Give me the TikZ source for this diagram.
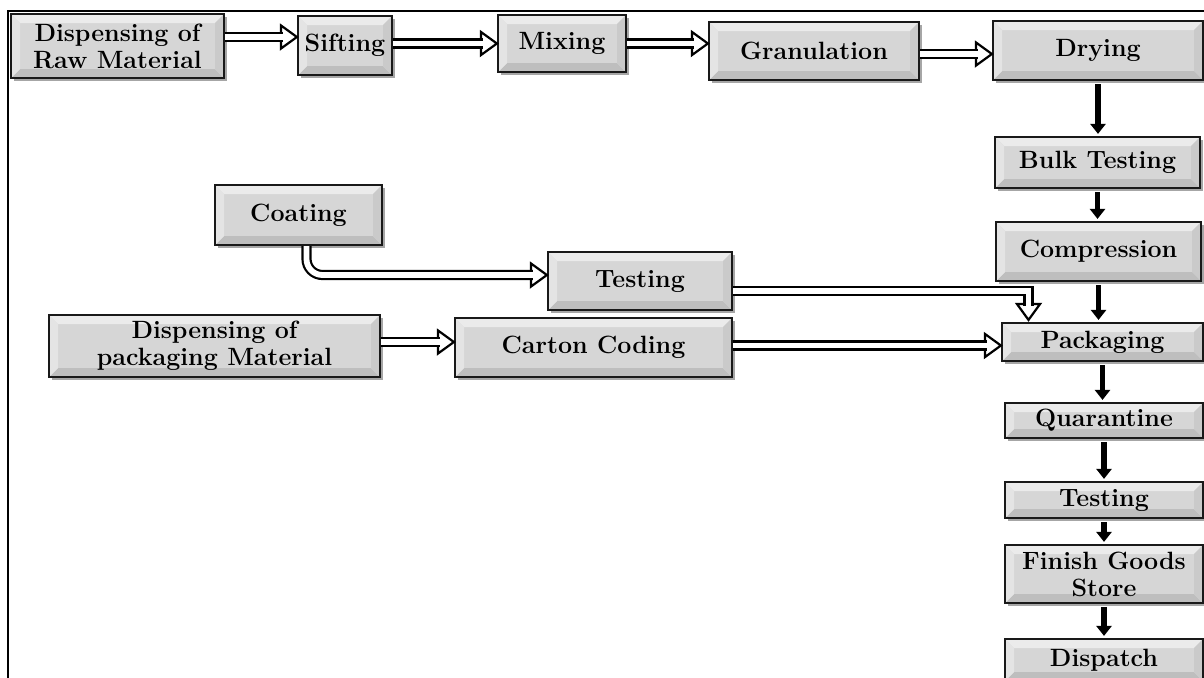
\documentclass[tikz,border=0pt]{standalone}
\usetikzlibrary{arrows.meta,shadows}

\definecolor{boxface}{HTML}{D6D6D6}
\definecolor{bevtop}{HTML}{EBEBEB}
\definecolor{bevleft}{HTML}{E4E4E4}
\definecolor{bevbottom}{HTML}{BEBEBE}
\definecolor{bevright}{HTML}{CACACA}

\tikzset{
  stage/.style={
    draw=black!90, line width=1.1pt, fill=boxface, inner sep=2pt, align=center,
    font=\fontsize{12.5}{13.5}\selectfont\bfseries,
    drop shadow={shadow xshift=1.3pt, shadow yshift=-1.3pt, opacity=0.35, fill=black},
    path picture={
      \fill[bevtop] (path picture bounding box.north west) -- (path picture bounding box.north east)
        -- ([shift={(-4.5pt,-4.5pt)}]path picture bounding box.north east)
        -- ([shift={(4.5pt,-4.5pt)}]path picture bounding box.north west) -- cycle;
      \fill[bevbottom] (path picture bounding box.south west) -- (path picture bounding box.south east)
        -- ([shift={(-4.5pt,4.5pt)}]path picture bounding box.south east)
        -- ([shift={(4.5pt,4.5pt)}]path picture bounding box.south west) -- cycle;
      \fill[bevleft] (path picture bounding box.north west) -- (path picture bounding box.south west)
        -- ([shift={(4.5pt,4.5pt)}]path picture bounding box.south west)
        -- ([shift={(4.5pt,-4.5pt)}]path picture bounding box.north west) -- cycle;
      \fill[bevright] (path picture bounding box.north east) -- (path picture bounding box.south east)
        -- ([shift={(-4.5pt,4.5pt)}]path picture bounding box.south east)
        -- ([shift={(-4.5pt,-4.5pt)}]path picture bounding box.north east) -- cycle;
    }},
  hshaft/.style={draw=black, line width=1.1pt, double=white, double distance=2.9pt},
  hhead/.style={fill=white, draw=black, line width=1.1pt, line join=miter},
  solid arrow/.style={line width=2.7pt, shorten <=1.5pt, shorten >=1pt,
    -{Triangle[length=5pt, width=7.5pt]}},
  frame/.style={line width=0.9pt},
}

% open arrow heads for the hollow connectors
\newcommand\headright[1]{\filldraw[hhead] (#1) -- ++(-8pt,5.8pt) -- ++(0,-11.6pt) -- cycle;}
\newcommand\headdown[1]{\filldraw[hhead] (#1) -- ++(-5.8pt,8pt) -- ++(11.6pt,0) -- cycle;}

\begin{document}
\begin{tikzpicture}[x=0.5pt, y=-0.5pt]
\fill[white] (0,0) rectangle (1204,677);
\clip (0,0) rectangle (1204,677);

% outer frame
\draw[frame] (8,690) -- (8,11) -- (1210,11);

% top row
\node[stage, minimum width=106.5pt, minimum height=32pt]   (raw)  at (117.5,46)  {Dispensing of\\Raw Material};
\node[stage, minimum width=47pt,    minimum height=29.5pt] (sift) at (345,45.5)  {Sifting};
\node[stage, minimum width=64pt,    minimum height=28.5pt] (mix)  at (562,43.5)  {Mixing};
\node[stage, minimum width=105pt,   minimum height=29pt]   (gran) at (814,51)    {Granulation};
\node[stage, minimum width=105pt,   minimum height=29.5pt] (dry)  at (1098,50.5) {Drying};

% right column
\node[stage, minimum width=102.5pt, minimum height=25.5pt] (bulk)  at (1097.5,162.5) {Bulk Testing};
\node[stage, minimum width=102.5pt, minimum height=29.5pt] (comp)  at (1098.5,251.5) {Compression};
\node[stage, minimum width=100.5pt, minimum height=19pt]   (pack)  at (1102.5,342)   {Packaging};
\node[stage, minimum width=99pt,    minimum height=17.5pt] (quar)  at (1104,420.5)   {Quarantine};
\node[stage, minimum width=99pt,    minimum height=18pt]   (test2) at (1104,500)     {Testing};
\node[stage, minimum width=99pt,    minimum height=29pt]   (fgs)   at (1104,574)     {Finish Goods\\Store};
\node[stage, minimum width=99pt,    minimum height=21pt]   (disp)  at (1104,660)     {Dispatch};

% packaging branch
\node[stage, minimum width=83.5pt,  minimum height=30pt]   (coat)   at (298.5,215) {Coating};
\node[stage, minimum width=92pt,    minimum height=29pt]   (test1)  at (640,281)   {Testing};
\node[stage, minimum width=165.5pt, minimum height=31pt]   (dpm)    at (214.5,346) {Dispensing of\\packaging Material};
\node[stage, minimum width=138.5pt, minimum height=29.5pt] (carton) at (593.5,347.5) {Carton Coding};

% hollow connectors: head first, then the double shaft into it
\headright{[yshift=4.5pt]raw.east -| sift.west}
\draw[hshaft] ([yshift=4.5pt]raw.east) -- ([yshift=4.5pt,xshift=-7pt]raw.east -| sift.west);

\headright{[yshift=1pt]sift.east -| mix.west}
\draw[hshaft] ([yshift=1pt]sift.east) -- ([yshift=1pt,xshift=-7pt]sift.east -| mix.west);

\headright{mix.east -| gran.west}
\draw[hshaft] (mix.east) -- ([xshift=-7pt]mix.east -| gran.west);

\headright{[yshift=-1.5pt]gran.east -| dry.west}
\draw[hshaft] ([yshift=-1.5pt]gran.east) -- ([yshift=-1.5pt,xshift=-7pt]gran.east -| dry.west);

\headright{[yshift=3pt]test1.west}
\draw[hshaft, rounded corners=8pt] ([xshift=4pt]coat.south) |- ([yshift=3pt,xshift=-7pt]test1.west);

\headdown{[xshift=-37pt,yshift=1pt]pack.north}
\draw[hshaft] ([yshift=-5pt]test1.east) -| ([xshift=-37pt,yshift=8pt]pack.north);

\headright{[yshift=2pt]dpm.east -| carton.west}
\draw[hshaft] ([yshift=2pt]dpm.east) -- ([yshift=2pt,xshift=-7pt]dpm.east -| carton.west);

\headright{[yshift=1pt]carton.east -| pack.west}
\draw[hshaft] ([yshift=1pt]carton.east) -- ([yshift=1pt,xshift=-7pt]carton.east -| pack.west);

% solid connectors down the right column
\draw[solid arrow] (dry.south)   -- (dry.south |- bulk.north);
\draw[solid arrow] (bulk.south)  -- (bulk.south |- comp.north);
\draw[solid arrow] (comp.south)  -- (comp.south |- pack.north);
\draw[solid arrow] (pack.south)  -- (pack.south |- quar.north);
\draw[solid arrow] (quar.south)  -- (quar.south |- test2.north);
\draw[solid arrow] (test2.south) -- (test2.south |- fgs.north);
\draw[solid arrow] (fgs.south)   -- (fgs.south |- disp.north);
\end{tikzpicture}
\end{document}
